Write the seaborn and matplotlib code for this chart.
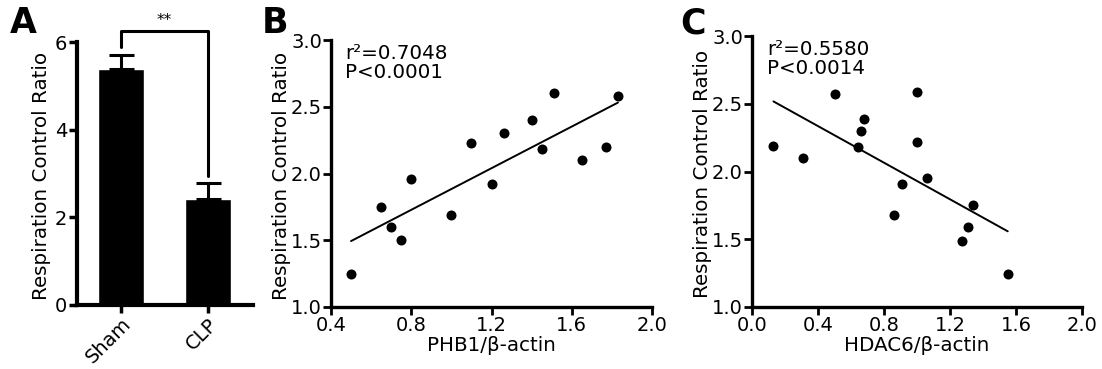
import numpy as np
import matplotlib
matplotlib.use("Agg")
import matplotlib.pyplot as plt
import seaborn as sns

# Panel A: bar chart (mean + upper SEM)
groups = ["Sham", "CLP"]
rcr_mean = [5.38, 2.42]
rcr_sem = [0.33, 0.37]

# Panel B: PHB1/beta-actin vs RCR
phb1 = [0.50, 0.65, 0.70, 0.75, 0.80, 1.00, 1.10, 1.20, 1.26, 1.40, 1.45, 1.51, 1.65, 1.77, 1.83]
rcr_b = [1.25, 1.75, 1.60, 1.50, 1.96, 1.69, 2.23, 1.92, 2.30, 2.40, 2.18, 2.60, 2.10, 2.20, 2.58]

# Panel C: HDAC6/beta-actin vs RCR
hdac6 = [0.13, 0.31, 0.50, 0.64, 0.66, 0.68, 0.86, 0.91, 1.00, 1.00, 1.06, 1.27, 1.31, 1.34, 1.55]
rcr_c = [2.19, 2.10, 2.57, 2.18, 2.30, 2.39, 1.68, 1.91, 2.59, 2.22, 1.95, 1.49, 1.59, 1.75, 1.24]

sns.set_style("ticks")
plt.rcParams["font.family"] = ["DejaVu Sans"]
# pure black everywhere, like the original figure
for k in ["text.color", "axes.edgecolor", "axes.labelcolor", "xtick.color", "ytick.color"]:
    plt.rcParams[k] = "black"

fig = plt.figure(figsize=(11.02, 3.69), dpi=100)
W, H = 1102, 369


def add_ax(left, top, right, bottom):
    return fig.add_axes([left / W, 1 - bottom / H, (right - left) / W, (bottom - top) / H])


tick_fs = 14
label_fs = 14.3

# ---------- A ----------
axA = add_ax(77, 42, 253, 305)
sns.barplot(x=groups, y=rcr_mean, color="black", width=0.53, ax=axA, saturation=1)
axA.errorbar([0, 1], rcr_mean, yerr=[[0, 0], rcr_sem], fmt="none", ecolor="black",
             elinewidth=2.2, capsize=9, capthick=2.2)
axA.set_ylim(0, 6)
axA.set_xlim(-0.506, 1.517)
axA.set_yticks([0, 2, 4, 6])
axA.set_ylabel("Respiration Control Ratio", fontsize=label_fs)
axA.yaxis.set_label_coords(-0.15, 0.49)
axA.tick_params(labelsize=tick_fs, width=2.5, length=6, pad=1)
plt.setp(axA.get_xticklabels(), rotation=45, ha="right", rotation_mode="anchor")
for s in ["left", "bottom"]:
    axA.spines[s].set_linewidth(3)
sns.despine(ax=axA)
# significance bracket
axA.plot([0, 0, 1, 1], [5.89, 6.25, 6.25, 2.94], color="black", lw=2.2, clip_on=False)
axA.text(0.5, 6.33, "**", ha="center", va="bottom", fontsize=11)

# ---------- B & C ----------
def scatter_panel(ax, x, y, xticks, xlabel, txt):
    sns.regplot(x=x, y=y, ci=None, ax=ax, truncate=True,
                scatter_kws=dict(s=52, color="black", linewidths=0, alpha=1),
                line_kws=dict(color="black", lw=1.4))
    ax.set_ylim(1.0, 3.0)
    ax.set_yticks([1.0, 1.5, 2.0, 2.5, 3.0])
    ax.set_yticklabels(["1.0", "1.5", "2.0", "2.5", "3.0"])
    ax.set_xlim(xticks[0], xticks[-1])
    ax.set_xticks(xticks)
    ax.set_xticklabels([f"{t:.1f}" for t in xticks])
    ax.set_xlabel(xlabel, fontsize=label_fs, labelpad=1)
    ax.set_ylabel("Respiration Control Ratio", fontsize=label_fs)
    ax.tick_params(labelsize=tick_fs, width=2, length=6, pad=0.5)
    for s in ["left", "bottom"]:
        ax.spines[s].set_linewidth(2.4)
    sns.despine(ax=ax)
    ax.text(0.045, 0.985, txt, transform=ax.transAxes, ha="left", va="top",
            fontsize=14.3, linespacing=1.0)


axB = add_ax(331, 40, 652, 307)
scatter_panel(axB, phb1, rcr_b, [0.4, 0.8, 1.2, 1.6, 2.0], "PHB1/β-actin",
              "r²=0.7048\nP<0.0001")
axB.yaxis.set_label_coords(-0.125, 0.49)

axC = add_ax(752, 36, 1082, 307)
scatter_panel(axC, hdac6, rcr_c, [0.0, 0.4, 0.8, 1.2, 1.6, 2.0], "HDAC6/β-actin",
              "r²=0.5580\nP<0.0014")
axC.yaxis.set_label_coords(-0.122, 0.49)

# panel letters
for lx, lab in [(10, "A"), (262, "B"), (680, "C")]:
    fig.text(lx / W, 1 - 6 / H, lab, fontsize=25, fontweight="bold", ha="left", va="top")

fig.savefig("out.png", dpi=100)
